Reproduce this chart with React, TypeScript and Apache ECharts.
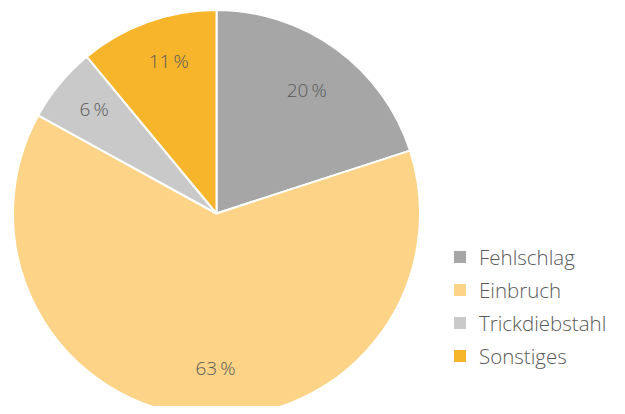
import React, { useEffect, useRef } from "react";
import * as echarts from "echarts";

const categories = ["Fehlschlag", "Einbruch", "Trickdiebstahl", "Sonstiges"];
const values = [20, 63, 6, 11];
const colors = ["#a6a6a6", "#fdd487", "#c9c9c9", "#f7b52c"];

const labelOffsets: [number, number][] = [[-3, 5], [14, -4], [0, -3], [6, -3]];

export default function App() {
  const ref = useRef<HTMLDivElement>(null);
  useEffect(() => {
    const chart = echarts.init(ref.current!, null, { renderer: "svg" });
    const data = categories.map((name, i) => ({
      name,
      value: values[i],
      itemStyle: { color: colors[i] },
    }));
    chart.setOption({
      animation: false,
      textStyle: { fontFamily: "Open Sans, Noto Sans, sans-serif" },
      legend: {
        orient: "vertical",
        left: 447,
        top: 241,
        itemWidth: 14,
        itemHeight: 14,
        itemGap: 11,
        icon: "rect",
        data: categories,
        textStyle: {
          fontSize: 20.5,
          lineHeight: 22,
          fontWeight: 300,
          color: "#595959",
          fontFamily: "Open Sans, Noto Sans, sans-serif",
          padding: [0, 0, 0, 7],
        },
      },
      series: [
        {
          type: "pie",
          center: [216.5, 213.5],
          radius: [0, 203.5],
          startAngle: 90,
          clockwise: true,
          silent: true,
          label: { show: false },
          labelLine: { show: false },
          itemStyle: { borderColor: "#ffffff", borderWidth: 2 },
          data,
        },
        {
          type: "pie",
          center: [216.5, 213.5],
          radius: [108, 203.5],
          startAngle: 90,
          clockwise: true,
          silent: true,
          legendHoverLink: false,
          label: {
            show: true,
            position: "inside",
            formatter: (p: any) => `${p.value}\u2009%`,
            fontSize: 19,
            fontWeight: 300,
            color: "#595959",
            fontFamily: "Open Sans, Noto Sans, sans-serif",
          },
          labelLine: { show: false },
          data: data.map((d, i) => ({
            name: d.name,
            value: d.value,
            itemStyle: { color: "rgba(0,0,0,0)", borderWidth: 0 },
            label: { offset: labelOffsets[i] },
          })),
        },
      ],
    });
    return () => chart.dispose();
  }, []);
  return <div ref={ref} style={{ width: 625, height: 414, margin: -8 }} />;
}
